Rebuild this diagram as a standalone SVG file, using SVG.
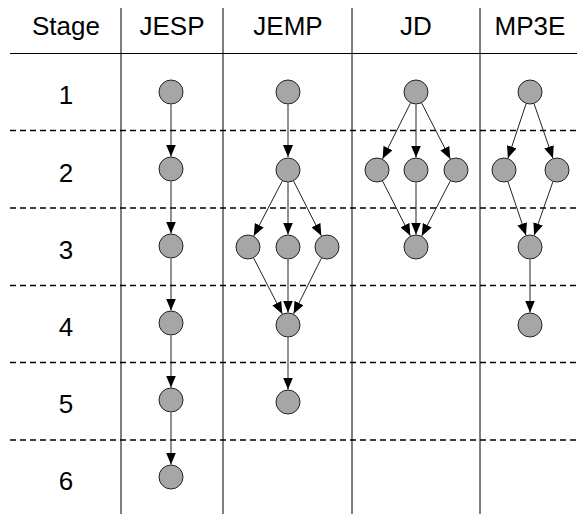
<svg xmlns="http://www.w3.org/2000/svg" width="577" height="514" viewBox="0 0 577 514">
<style>
.bg{fill:#fff}
.grid{stroke:#000;stroke-width:1;fill:none}
.dash{stroke:#000;stroke-width:1.3;stroke-dasharray:6 4;fill:none}
.t{font-family:"Liberation Sans",Arial,sans-serif;font-size:26px;fill:#000;text-anchor:middle}
.n{fill:#a6a6a6;stroke:#222;stroke-width:1}
.e{stroke:#222;stroke-width:1;fill:none;marker-end:url(#ah)}
</style>
<defs>
<marker id="ah" markerUnits="userSpaceOnUse" markerWidth="12" markerHeight="10" refX="12" refY="5" orient="auto">
<path d="M0,0 L12,5 L0,10 z" fill="#000"/>
</marker>
</defs>
<rect class="bg" x="0" y="0" width="577" height="514"/>
<g id="grid">
<line class="grid" x1="10" y1="53.5" x2="577" y2="53.5"/>
<line class="grid" x1="121" y1="8" x2="121" y2="514"/>
<line class="grid" x1="223" y1="8" x2="223" y2="514"/>
<line class="grid" x1="352" y1="8" x2="352" y2="514"/>
<line class="grid" x1="480" y1="8" x2="480" y2="514"/>
<line class="dash" x1="10" y1="130.5" x2="577" y2="130.5"/>
<line class="dash" x1="10" y1="208" x2="577" y2="208"/>
<line class="dash" x1="10" y1="285.5" x2="577" y2="285.5"/>
<line class="dash" x1="10" y1="362.5" x2="577" y2="362.5"/>
<line class="dash" x1="10" y1="440" x2="577" y2="440"/>
</g>
<g id="labels">
<text class="t" x="66" y="35">Stage</text>
<text class="t" x="172" y="35">JESP</text>
<text class="t" x="288" y="35">JEMP</text>
<text class="t" x="416" y="35">JD</text>
<text class="t" x="530" y="35">MP3E</text>
<text class="t" x="66" y="104">1</text>
<text class="t" x="66" y="182">2</text>
<text class="t" x="66" y="259">3</text>
<text class="t" x="66" y="336">4</text>
<text class="t" x="66" y="413">5</text>
<text class="t" x="66" y="490">6</text>
</g>
<g id="connectors">
<line class="e" x1="171" y1="104.5" x2="171" y2="156.5"/>
<line class="e" x1="171" y1="181.5" x2="171" y2="233.5"/>
<line class="e" x1="171" y1="258.5" x2="171" y2="310.5"/>
<line class="e" x1="171" y1="335.5" x2="171" y2="387.5"/>
<line class="e" x1="171" y1="412.5" x2="171" y2="464.5"/>
<line class="e" x1="288" y1="104.5" x2="288" y2="157"/>
<line class="e" x1="282.24" y1="181.09" x2="253.76" y2="235.91"/>
<line class="e" x1="288" y1="182.5" x2="288" y2="234.5"/>
<line class="e" x1="293.65" y1="181.15" x2="321.35" y2="235.85"/>
<line class="e" x1="253.7" y1="258.1" x2="282.3" y2="313.9"/>
<line class="e" x1="288" y1="259.5" x2="288" y2="312.5"/>
<line class="e" x1="321.4" y1="258.2" x2="293.6" y2="313.8"/>
<line class="e" x1="288" y1="337.5" x2="288" y2="389.5"/>
<line class="e" x1="410.4" y1="103.2" x2="382.6" y2="158.8"/>
<line class="e" x1="416" y1="104.5" x2="416" y2="157.5"/>
<line class="e" x1="421.7" y1="103.1" x2="450.3" y2="158.9"/>
<line class="e" x1="382.65" y1="181.15" x2="410.35" y2="235.85"/>
<line class="e" x1="416" y1="182.5" x2="416" y2="234.5"/>
<line class="e" x1="450.24" y1="181.09" x2="421.76" y2="235.91"/>
<line class="e" x1="526.05" y1="103.86" x2="507.95" y2="158.14"/>
<line class="e" x1="534.09" y1="103.81" x2="552.91" y2="158.19"/>
<line class="e" x1="508" y1="181.84" x2="526" y2="235.16"/>
<line class="e" x1="552.86" y1="181.8" x2="534.14" y2="235.2"/>
<line class="e" x1="530" y1="259.5" x2="530" y2="312.5"/>
</g>
<g id="jesp">
<circle id="jesp1" class="n" cx="171" cy="92" r="12"/>
<circle id="jesp2" class="n" cx="171" cy="169" r="12"/>
<circle id="jesp3" class="n" cx="171" cy="246" r="12"/>
<circle id="jesp4" class="n" cx="171" cy="323" r="12"/>
<circle id="jesp5" class="n" cx="171" cy="400" r="12"/>
<circle id="jesp6" class="n" cx="171" cy="477" r="12"/>
</g>
<g id="jemp">
<circle id="jemp1" class="n" cx="288" cy="92" r="12"/>
<circle id="jemp2" class="n" cx="288" cy="170" r="12"/>
<circle id="jemp3a" class="n" cx="248" cy="247" r="12"/>
<circle id="jemp3b" class="n" cx="288" cy="247" r="12"/>
<circle id="jemp3c" class="n" cx="327" cy="247" r="12"/>
<circle id="jemp4" class="n" cx="288" cy="325" r="12"/>
<circle id="jemp5" class="n" cx="288" cy="402" r="12"/>
</g>
<g id="jd">
<circle id="jd1" class="n" cx="416" cy="92" r="12"/>
<circle id="jd2a" class="n" cx="377" cy="170" r="12"/>
<circle id="jd2b" class="n" cx="416" cy="170" r="12"/>
<circle id="jd2c" class="n" cx="456" cy="170" r="12"/>
<circle id="jd3" class="n" cx="416" cy="247" r="12"/>
</g>
<g id="mp3e">
<circle id="mp3e1" class="n" cx="530" cy="92" r="12"/>
<circle id="mp3e2a" class="n" cx="504" cy="170" r="12"/>
<circle id="mp3e2b" class="n" cx="557" cy="170" r="12"/>
<circle id="mp3e3" class="n" cx="530" cy="247" r="12"/>
<circle id="mp3e4" class="n" cx="530" cy="325" r="12"/>
</g>
</svg>
